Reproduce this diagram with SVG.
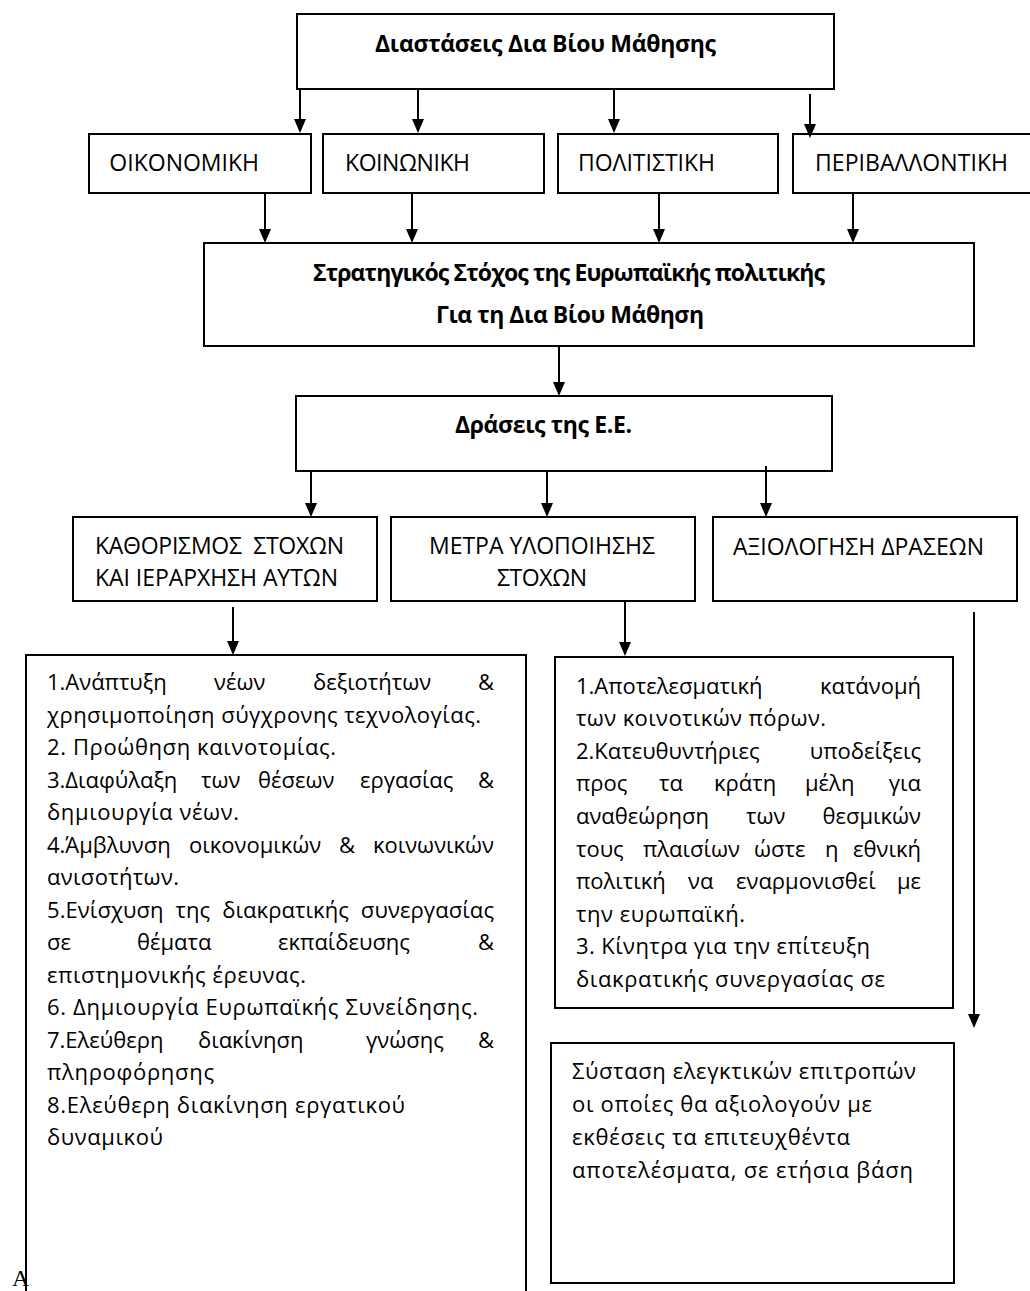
<svg xmlns="http://www.w3.org/2000/svg" width="1030" height="1291" viewBox="0 0 1030 1291">
<style>
.box{fill:#fff;stroke:#000;stroke-width:2}
.open{fill:none;stroke:#000;stroke-width:2}
.conn line{stroke:#000;stroke-width:2;marker-end:url(#ah)}
text{font-family:"Open Sans","Noto Sans",sans-serif;font-size:22px;fill:#000}
text.b{font-weight:bold;font-size:23px}
text.c{font-size:23px}
text.e{text-anchor:end}
text.serif{font-family:"Liberation Serif",serif;font-size:24px}
</style>
<defs>
<marker id="ah" viewBox="0 0 14 12" refX="4" refY="6" markerWidth="14" markerHeight="12" markerUnits="userSpaceOnUse" orient="auto"><path d="M0,0 L14,6 L0,12 z" fill="#000"/></marker>
</defs>
<rect x="0" y="0" width="1030" height="1291" fill="#fff"/>

<g id="n-dimensions">
<rect class="box" x="297" y="14" width="537" height="75"/>
<text class="b" x="375" y="52" textLength="341" lengthAdjust="spacing">Διαστάσεις Δια Βίου Μάθησης</text>
</g>

<g id="n-economic">
<rect class="box" x="89" y="134" width="222" height="59"/>
<text class="c e" x="259" y="171">ΟΙΚΟΝΟΜΙΚΗ</text>
</g>
<g id="n-social">
<rect class="box" x="323" y="134" width="221" height="59"/>
<text class="c" x="345" y="171" textLength="125" lengthAdjust="spacing">ΚΟΙΝΩΝΙΚΗ</text>
</g>
<g id="n-cultural">
<rect class="box" x="558" y="134" width="220" height="59"/>
<text class="c" x="578" y="171" textLength="137" lengthAdjust="spacing">ΠΟΛΙΤΙΣΤΙΚΗ</text>
</g>
<g id="n-environmental">
<rect class="box" x="793" y="134" width="245" height="59"/>
<text class="c" x="815" y="171" textLength="193" lengthAdjust="spacing">ΠΕΡΙΒΑΛΛΟΝΤΙΚΗ</text>
</g>

<g id="n-strategic">
<rect class="box" x="204" y="243" width="770" height="103"/>
<text class="b" x="313" y="281" textLength="512" lengthAdjust="spacing">Στρατηγικός Στόχος της Ευρωπαϊκής πολιτικής</text>
<text class="b" x="436" y="323" textLength="268" lengthAdjust="spacing">Για τη Δια Βίου Μάθηση</text>
</g>

<g id="n-actions">
<rect class="box" x="296" y="396" width="536" height="75"/>
<text class="b" x="455" y="433" textLength="177" lengthAdjust="spacing">Δράσεις της Ε.Ε.</text>
</g>

<g id="n-goals">
<rect class="box" x="73" y="517" width="304" height="84"/>
<text class="c" x="95" y="554" textLength="249" lengthAdjust="spacing" xml:space="preserve">ΚΑΘΟΡΙΣΜΟΣ  ΣΤΟΧΩΝ</text>
<text class="c" x="95" y="586" textLength="243" lengthAdjust="spacing">ΚΑΙ ΙΕΡΑΡΧΗΣΗ ΑΥΤΩΝ</text>
</g>
<g id="n-measures">
<rect class="box" x="391" y="517" width="304" height="84"/>
<text class="c" x="429" y="554" textLength="226" lengthAdjust="spacing">ΜΕΤΡΑ ΥΛΟΠΟΙΗΣΗΣ</text>
<text class="c" x="497" y="586" textLength="90" lengthAdjust="spacing">ΣΤΟΧΩΝ</text>
</g>
<g id="n-evaluation">
<rect class="box" x="713" y="517" width="304" height="84"/>
<text class="c" x="733" y="555" textLength="251" lengthAdjust="spacing">ΑΞΙΟΛΟΓΗΣΗ ΔΡΑΣΕΩΝ</text>
</g>

<g id="n-goals-list">
<path class="open" d="M26,1291 V655 H526 V1291"/>
<text y="690"><tspan x="47">1.Ανάπτυξη</tspan><tspan x="214">νέων</tspan><tspan x="313">δεξιοτήτων</tspan></text>
<text class="e" x="494" y="690">&amp;</text>
<text x="47" y="723" textLength="434" lengthAdjust="spacing">χρησιμοποίηση σύγχρονης τεχνολογίας.</text>
<text x="47" y="755" textLength="289" lengthAdjust="spacing">2. Προώθηση καινοτομίας.</text>
<text y="788"><tspan x="47">3.Διαφύλαξη</tspan><tspan x="201">των</tspan><tspan x="258">θέσεων</tspan><tspan x="360">εργασίας</tspan></text>
<text class="e" x="494" y="788">&amp;</text>
<text x="47" y="820" textLength="192" lengthAdjust="spacing">δημιουργία νέων.</text>
<text y="853"><tspan x="47">4.Άμβλυνση</tspan><tspan x="189">οικονομικών</tspan><tspan x="339">&amp;</tspan></text>
<text class="e" x="494" y="853">κοινωνικών</text>
<text x="47" y="885" textLength="132" lengthAdjust="spacing">ανισοτήτων.</text>
<text x="47" y="918" word-spacing="6" textLength="447" lengthAdjust="spacing">5.Ενίσχυση της διακρατικής συνεργασίας</text>
<text y="950"><tspan x="47">σε</tspan><tspan x="137">θέματα</tspan><tspan x="278">εκπαίδευσης</tspan></text>
<text class="e" x="494" y="950">&amp;</text>
<text x="47" y="983" textLength="259" lengthAdjust="spacing">επιστημονικής έρευνας.</text>
<text x="47" y="1015" textLength="431" lengthAdjust="spacing">6. Δημιουργία Ευρωπαϊκής Συνείδησης.</text>
<text y="1048"><tspan x="47">7.Ελεύθερη</tspan><tspan x="198">διακίνηση</tspan><tspan x="366">γνώσης</tspan></text>
<text class="e" x="494" y="1048">&amp;</text>
<text x="47" y="1080" textLength="167" lengthAdjust="spacing">πληροφόρησης</text>
<text x="47" y="1113" textLength="358" lengthAdjust="spacing">8.Ελεύθερη διακίνηση εργατικού</text>
<text x="47" y="1145" textLength="116" lengthAdjust="spacing">δυναμικού</text>
</g>

<g id="n-measures-list">
<rect class="box" x="555" y="657" width="398" height="351"/>
<text x="576" y="694">1.Αποτελεσματική</text>
<text class="e" x="921" y="694">κατάνομή</text>
<text x="576" y="726" textLength="250" lengthAdjust="spacing">των κοινοτικών πόρων.</text>
<text x="576" y="759">2.Κατευθυντήριες</text>
<text class="e" x="921" y="759">υποδείξεις</text>
<text y="791"><tspan x="576">προς</tspan><tspan x="659">τα</tspan><tspan x="714">κράτη</tspan><tspan x="805">μέλη</tspan></text>
<text class="e" x="921" y="791">για</text>
<text y="824"><tspan x="576">αναθεώρηση</tspan><tspan x="746">των</tspan></text>
<text class="e" x="921" y="824">θεσμικών</text>
<text y="857"><tspan x="576">τους</tspan><tspan x="643">πλαισίων</tspan><tspan x="754">ώστε</tspan><tspan x="825">η</tspan></text>
<text class="e" x="921" y="857">εθνική</text>
<text y="889"><tspan x="576">πολιτική</tspan><tspan x="688">να</tspan><tspan x="736">εναρμονισθεί</tspan></text>
<text class="e" x="921" y="889">με</text>
<text x="576" y="922" textLength="169" lengthAdjust="spacing">την ευρωπαϊκή.</text>
<text x="576" y="954" textLength="294" lengthAdjust="spacing">3. Κίνητρα για την επίτευξη</text>
<text x="576" y="987" textLength="309" lengthAdjust="spacing">διακρατικής συνεργασίας σε</text>
</g>

<g id="n-evaluation-text">
<rect class="box" x="551" y="1043" width="403" height="240"/>
<text x="572" y="1079" textLength="344" lengthAdjust="spacing">Σύσταση ελεγκτικών επιτροπών</text>
<text x="572" y="1112" textLength="300" lengthAdjust="spacing">οι οποίες θα αξιολογούν με</text>
<text x="572" y="1145" textLength="278" lengthAdjust="spacing">εκθέσεις τα επιτευχθέντα</text>
<text x="572" y="1178" textLength="341" lengthAdjust="spacing">αποτελέσματα, σε ετήσια βάση</text>
</g>

<text class="serif" x="12" y="1286">A</text>

<g id="connectors" class="conn">
<line x1="300" y1="89" x2="300" y2="123"/>
<line x1="418" y1="89" x2="418" y2="123"/>
<line x1="614" y1="89" x2="614" y2="123"/>
<line x1="810" y1="94" x2="810" y2="128"/>
<line x1="265" y1="193" x2="265" y2="233"/>
<line x1="412" y1="193" x2="412" y2="233"/>
<line x1="659" y1="193" x2="659" y2="233"/>
<line x1="853" y1="193" x2="853" y2="233"/>
<line x1="559" y1="346" x2="559" y2="386"/>
<line x1="311" y1="471" x2="311" y2="507"/>
<line x1="547" y1="471" x2="547" y2="507"/>
<line x1="766" y1="466" x2="766" y2="507"/>
<line x1="233" y1="607" x2="233" y2="645"/>
<line x1="625" y1="602" x2="625" y2="646"/>
<line x1="974" y1="612" x2="974" y2="1018"/>
</g>
</svg>
